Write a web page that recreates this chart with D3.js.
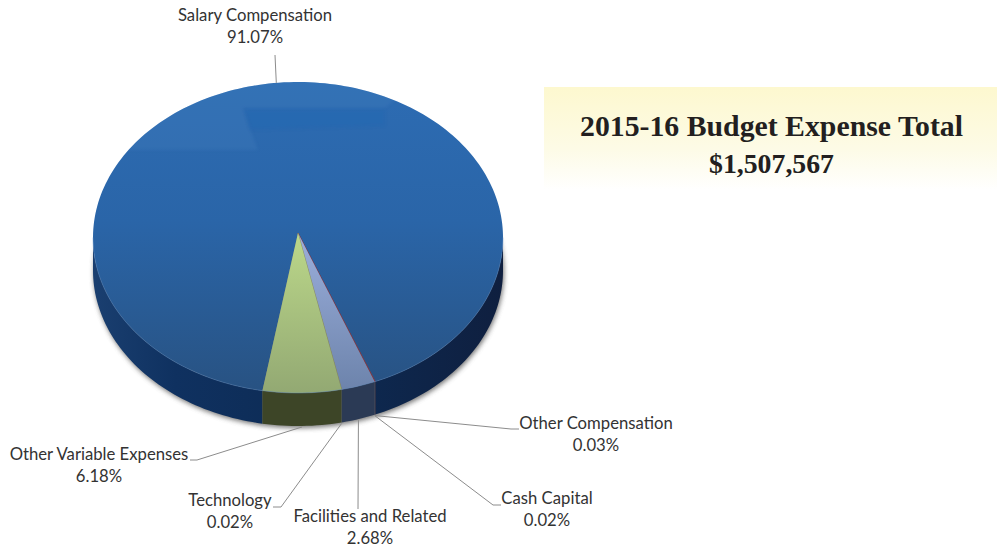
<!DOCTYPE html>
<html><head><meta charset="utf-8">
<script src="https://cdn.jsdelivr.net/npm/d3@7/dist/d3.min.js"></script>
<style>html,body{margin:0;padding:0;background:#fff;overflow:hidden}svg{display:block}</style>
</head><body>
<script>
const categories = ["Salary Compensation","Other Compensation","Cash Capital","Facilities and Related","Technology","Other Variable Expenses"];
const shares = [91.07,0.03,0.02,2.68,0.02,6.18];
const shareLabels = ["91.07%","0.03%","0.02%","2.68%","0.02%","6.18%"];
const titleLines = ["2015-16 Budget Expense Total","$1,507,567"];

const W=997,H=552, cx=298, cy=233, rx=205, ry=155.5, depth=33, bulge=4.5;
const FONT="Lato, 'Open Sans', sans-serif";
const svg=d3.select("body").append("svg").attr("width",W).attr("height",H);
const defs=svg.append("defs");
function grad(id,x1,y1,x2,y2,stops){
  const g=defs.append("linearGradient").attr("id",id).attr("gradientUnits","userSpaceOnUse")
    .attr("x1",x1).attr("y1",y1).attr("x2",x2).attr("y2",y2);
  stops.forEach(s=>g.append("stop").attr("offset",s[0]).attr("stop-color",s[1]));
}
grad("gTop",0,82,0,392,[[0,"#2d6cb3"],[.45,"#2a65a8"],[1,"#285282"]]);
grad("gGreen",0,233,0,392,[[0,"#bcd88a"],[1,"#93a973"]]);
grad("gPeri",0,233,0,392,[[0,"#9cafdc"],[1,"#6c83ab"]]);
grad("gSide",93,0,503,0,[[0,"#1a3f70"],[.2,"#0f3160"],[.6,"#0d2a52"],[1,"#0f1f3f"]]);
grad("gBox",0,87,0,190,[[0,"#fdf8cf"],[.6,"#fdfbe6"],[1,"#ffffff"]]);
defs.append("filter").attr("id","blur").attr("x","-10%").attr("y","-10%").attr("width","120%").attr("height","120%")
  .append("feGaussianBlur").attr("stdDeviation",2.5);
defs.append("filter").attr("id","soft").attr("x","-20%").attr("y","-20%").attr("width","140%").attr("height","140%")
  .append("feGaussianBlur").attr("stdDeviation",1.6);

// Rim of the tilted disc; the slices' apex sits slightly above the rim's centre (perspective)
const rim=(a,dz=0)=>{const v=-Math.cos(a);return [cx+rx*Math.sin(a), cy+bulge+ry*v+dz];};
const line=d3.line();
const angles=(a0,a1)=>d3.range(0,1.0001,1/Math.max(2,Math.ceil(Math.abs(a1-a0)*40))).map(t=>a0+(a1-a0)*t);

const pie=d3.pie().sort(null).startAngle(190*Math.PI/180).endAngle((190+360)*Math.PI/180);
const arcs=pie(shares);
const topFill=["url(#gTop)","#9a3038","#7a3040","url(#gPeri)","#8a8a50","url(#gGreen)"];
const sideFill=["url(#gSide)","#3a1a2a","#3a1a2a","#2b3a55","#2b3a55","#3d4527"];

// Title box
svg.append("rect").attr("x",544).attr("y",87).attr("width",453).attr("height",103).attr("fill","url(#gBox)");
const titleWidths=[383,125];
svg.selectAll("text.title").data(titleLines).join("text").attr("class","title")
  .attr("x",771.5).attr("y",(d,i)=>136+i*37).attr("text-anchor","middle")
  .attr("font-family","'Liberation Serif',serif").attr("font-weight","bold").attr("font-size",(d,i)=>i?28:29)
  .attr("textLength",(d,i)=>titleWidths[i]).attr("lengthAdjust","spacingAndGlyphs")
  .attr("fill","#231f20").text(d=>d);

// Ground shadow
const rimPts=angles(0,2*Math.PI).map(a=>rim(a));
svg.append("path").attr("d",line(rimPts.map(p=>[p[0]+1,p[1]+depth+2]))+"Z").attr("fill","#555").attr("opacity",.8).attr("filter","url(#blur)");

// Side wall: front facing part of every slice
const front=(d)=>{
  const lo=Math.PI/2, hi=3*Math.PI/2, segs=[];
  [[d.startAngle,d.endAngle],[d.startAngle-2*Math.PI,d.endAngle-2*Math.PI]].forEach(([s,e])=>{
    const a=Math.max(s,lo),b=Math.min(e,hi); if(b>a) segs.push([a,b]);
  });
  return segs;
};
arcs.forEach((d,i)=>{
  front(d).forEach(([a,b])=>{
    const as=angles(a,b);
    const pts=as.map(t=>rim(t)).concat(as.slice().reverse().map(t=>rim(t,depth)));
    svg.append("path").attr("d",line(pts)+"Z").attr("fill",sideFill[i]);
  });
});

// Top face
const sliceG=svg.append("g");
arcs.forEach((d,i)=>{
  const pts=[[cx,cy]].concat(angles(d.startAngle,d.endAngle).map(t=>rim(t)));
  sliceG.append("path").attr("d",line(pts)+"Z").attr("fill",topFill[i])
    .attr("stroke",i===0?"none":topFill[i]).attr("stroke-width",i===1||i===2||i===4?.35:0);
});
// Front rim highlight
svg.append("path").attr("d",line(angles(Math.PI/2,3*Math.PI/2).map(t=>rim(t)))).attr("fill","none")
  .attr("stroke","#5f8fc8").attr("stroke-width",1).attr("opacity",.4);

// Glossy light area at the top of the pie
const clip=defs.append("clipPath").attr("id","topClip");
clip.append("path").attr("d",line(rimPts)+"Z");
const gloss=svg.append("g").attr("clip-path","url(#topClip)");
gloss.append("path").attr("d","M120 150 L258 150 L250 128 L243 108 L385 108 L420 80 L200 60 Z")
  .attr("fill","#4a82c0").attr("opacity",.25).attr("filter","url(#soft)");
gloss.append("path").attr("d","M245 110 L385 110 L385 126 L250 130 Z").attr("fill","#1f66b2").attr("opacity",.3).attr("filter","url(#soft)");

// Leaders and labels
const labelLayout=[
 {x:255,y:21,bend:null,end:[275,55]},
 {x:596,y:429,bend:[511,429],end:[519,429]},
 {x:547,y:504,bend:[493,505],end:[501,505]},
 {x:370,y:522,bend:null,end:[358,509]},
 {x:230,y:506,bend:[281,507],end:[273,507]},
 {x:99,y:460,bend:[197,460],end:[190,460]}
];
arcs.forEach((d,i)=>{
  const m=(d.startAngle+d.endAngle)/2;
  const onFront=Math.cos(m)<0;
  const s=rim(m,onFront?depth:0);
  if(onFront) s[1]+=1;
  const L=labelLayout[i];
  const pts=[s]; if(L.bend) pts.push(L.bend); pts.push(L.end);
  svg.append("path").attr("d",line(pts)).attr("fill","none").attr("stroke","#8c8c8c").attr("stroke-width",1);
  const t=svg.append("text").attr("text-anchor","middle").attr("font-family",FONT).attr("font-size",16.7).attr("fill","#333");
  t.append("tspan").attr("x",L.x).attr("y",L.y).text(categories[i]);
  t.append("tspan").attr("x",L.x).attr("y",L.y+22).text(shareLabels[i]);
});
</script>
</body></html>
